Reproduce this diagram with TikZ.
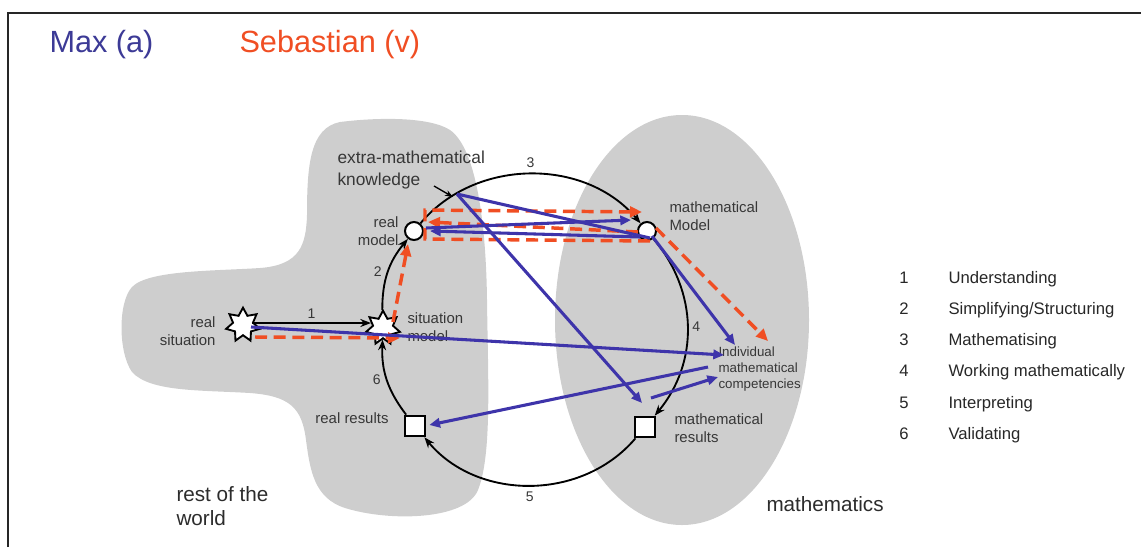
\documentclass[tikz,border=0pt]{standalone}
\usepackage{fontspec}
\setmainfont{Liberation Sans}
\usetikzlibrary{arrows.meta,shapes.geometric}

\definecolor{maxblue}{RGB}{62,52,170}
\definecolor{maxtxt}{RGB}{60,58,150}
\definecolor{sebred}{RGB}{240,78,35}
\definecolor{blobgray}{RGB}{206,206,206}
\definecolor{txtgray}{RGB}{55,55,55}

\tikzset{every picture/.style={line width=0.75pt}}
\tikzset{
  cyc/.style={-{Stealth[length=8pt,width=6pt]}, line width=1.4pt},
  maxarrow/.style={maxblue, line width=2.3pt, -{Triangle[length=8pt,width=7pt]}},
  maxline/.style={maxblue, line width=2.3pt},
  sebarrow/.style={sebred, line width=2.6pt, dash pattern=on 9pt off 5pt, -{Triangle[length=9pt,width=8pt]}},
  starnode/.style={star, star points=7, star point ratio=1.7, draw, fill=white, line width=1.4pt, minimum size=26pt, inner sep=0pt},
  dotnode/.style={circle, draw, fill=white, line width=1.5pt, minimum size=13.5pt, inner sep=0pt},
  boxnode/.style={rectangle, draw, fill=white, line width=1.5pt, minimum size=15.5pt, inner sep=0pt},
  lbl/.style={text=txtgray, inner sep=0pt, font=\fontsize{11.2}{13}\selectfont},
  big/.style={text=txtgray!80!black, inner sep=0pt, font=\fontsize{15.5}{18}\selectfont},
  num/.style={text=txtgray, inner sep=0pt, font=\fontsize{10.5}{12}\selectfont},
  leg/.style={text=txtgray!70!black, inner sep=0pt, font=\fontsize{12.5}{14}\selectfont},
}

\begin{document}
\begin{tikzpicture}[x=0.75pt,y=0.75pt,yscale=-1]
\useasboundingbox (0,0) rectangle (1141,547);

%Frame
\draw [line width=2.2pt, color=black!85] (8,547) -- (8,13) -- (1141,13) ;

%Title
\node [anchor=west, text=maxtxt, font=\fontsize{23}{26}\selectfont, inner sep=0pt] (max) at (49,45) {Max (a)};
\node [anchor=west, text=sebred, font=\fontsize{23}{26}\selectfont, inner sep=0pt] (seb) at (239,45) {Sebastian (v)};

%Shape: rest of the world
\draw [draw=none, fill=blobgray] (340,122) .. controls (380,117) and (430,117) .. (450,130) .. controls (476,148) and (486,222) .. (487,300) .. controls (488,380) and (492,455) .. (478,490) .. controls (466,520) and (390,522) .. (345,508) .. controls (314,498) and (310,470) .. (306,440) .. controls (302,408) and (290,396) .. (250,393) .. controls (200,390) and (150,392) .. (132,372) .. controls (118,352) and (118,302) .. (132,287) .. controls (148,270) and (215,271) .. (260,268) .. controls (300,265) and (306,245) .. (307,215) .. controls (307,165) and (310,128) .. (340,122) -- cycle ;
%Shape: Ellipse mathematics
\draw [draw=none, fill=blobgray] (682,320) ellipse (127 and 205) ;

%Nodes of the cycle
\node [starnode] (rs) at (243,325) {};
\node [starnode] (sm) at (383,328) {};
\node [dotnode] (rm) at (414,231) {};
\node [dotnode] (mm) at (647,231) {};
\node [boxnode] (rr) at (415,426) {};
\node [boxnode] (mr) at (645,427) {};

%Labels
\node [lbl, anchor=east, align=right] (rsl) at (216,331) {real\\situation};
\node [lbl, anchor=west, align=left] (sml) at (407,327) {situation\\model};
\node [lbl, anchor=east, align=right] (rml) at (399,231) {real\\model};
\node [lbl, anchor=west, align=left, font=\fontsize{13}{16.5}\selectfont] (kl) at (337,170) {extra-mathematical\\knowledge};
\node [lbl, anchor=west, align=left] (mml) at (669,216) {mathematical\\Model};
\node [lbl, anchor=west, align=left, font=\fontsize{10}{12}\selectfont] (icl) at (718,369) {Individual\\mathematical\\competencies};
\node [lbl, anchor=east] (rrl) at (389,418) {real results};
\node [lbl, anchor=west, align=left] (mrl) at (674,428) {mathematical\\results};
\node [big, anchor=west, align=left] (rwl) at (176,506) {rest of the\\world};
\node [big, anchor=west] (mal) at (766,504) {mathematics};

%Legend
\foreach \t [count=\n] in {Understanding, {Simplifying/Structuring}, Mathematising, Working mathematically, Interpreting, Validating}{
  \node [leg, anchor=base] (ln\n) at (904, 252+31.2*\n) {\n};
  \node [leg, anchor=base west] (lt\n) at (948, 252+31.2*\n) {\t};
}

%Free ends
\coordinate (kp) at (457,194);
\coordinate (kt) at (434,186);
\coordinate (ic1) at (724,355);
\coordinate (ic2) at (735,345);
\coordinate (ic3) at (718,377);
\coordinate (ic4) at (708,367);
\coordinate (ic5) at (768,341);
\coordinate (mrt) at (651,398);
\coordinate (rtl) at (425,210);
\coordinate (rbl) at (425,239);
\coordinate (rbr) at (650,241);

%Curve Lines: modelling cycle
\draw [cyc] (sm) to[bend right=20] node[num, midway, left=4pt] {2} (rm);
\draw [cyc] (rm) to[bend right=50] node[num, midway, above=4pt] {3} (mm);
\draw [cyc] (mm) to[bend right=40] node[num, midway, right=3pt] {4} (mr);
\draw [cyc] (mr) to[bend right=50] node[num, midway, below=4pt] {5} (rr);
\draw [cyc] (rr) to[bend right=20] node[num, midway, left=4pt] {6} (sm);
%Straight Lines
\draw [cyc] ([shift={(9,-2)}]rs.center) -- node[num, midway, above=3pt] {1} ([shift={(-12,-5)}]sm.center);
\draw [-{Stealth[length=6pt,width=4.5pt]}, line width=1pt] (kt) -- ([shift={(-4,3)}]kp);

%Straight Lines: Sebastian
\draw [sebarrow] ([shift={(12,12)}]rs.center) -- ([shift={(17,10)}]sm.center);
\draw [sebarrow] ([shift={(10,-6)}]sm.center) -- ([shift={(-6,13)}]rm.center);
\draw [sebarrow] (rbr) -- (rbl) -- (rtl) -- ([shift={(-5,-19)}]mm.center);
\draw [sebarrow] ([shift={(-9,1)}]mm.center) -- ([shift={(14,-9)}]rm.center);
\draw [sebarrow] ([shift={(9,-3)}]mm.center) -- (ic5);

%Straight Lines: Max
\draw [maxarrow] ([shift={(8,2)}]rs.center) -- (ic1);
\draw [maxarrow] ([shift={(2,-3)}]rm.east) -- ([shift={(-6,-11)}]mm.west);
\draw [maxarrow] ([shift={(-7,6)}]mm.center) -- ([shift={(6,0)}]rm.east);
\draw [maxline] (kp) -- ([shift={(3,7)}]mm.center);
\draw [maxarrow] (kp) -- ([shift={(-3,-24)}]mr.center);
\draw [maxarrow] ([shift={(5,5)}]mm.center) -- (ic2);
\draw [maxarrow] (ic4) -- ([shift={(3,-1)}]rr.east);
\draw [maxarrow] (mrt) -- (ic3);

\end{tikzpicture}
\end{document}
